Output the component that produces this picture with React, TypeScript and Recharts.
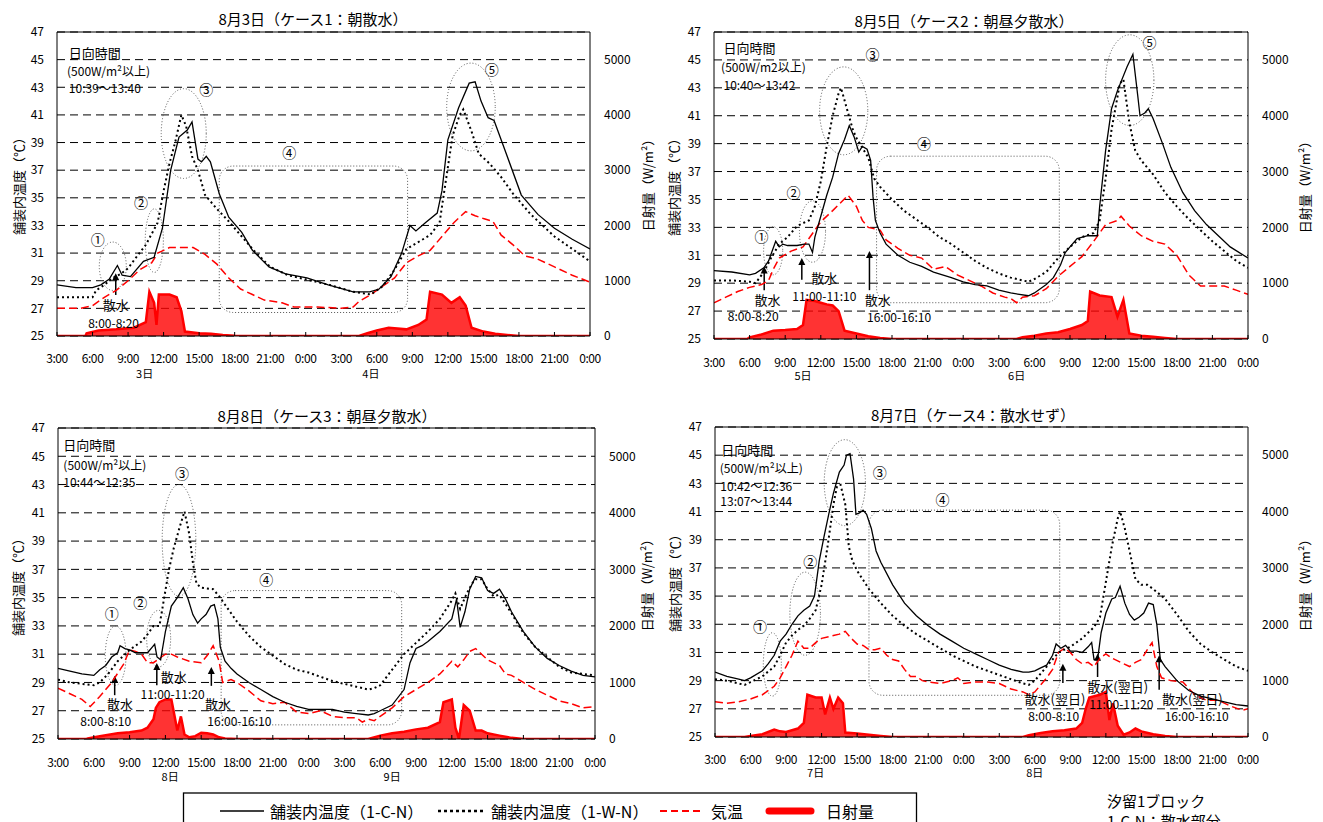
import React from 'react';
import {
  ComposedChart, Line, Area, XAxis, YAxis, CartesianGrid,
  ReferenceLine, ReferenceArea, ReferenceDot,
} from 'recharts';

const FONT = '"Noto Sans CJK JP", "Noto Sans", sans-serif';

// ---- axes ----
const HOURS = [0, 3, 6, 9, 12, 15, 18, 21, 24, 27, 30, 33, 36, 39, 42, 45];
const TEMP_TICKS = [25, 27, 29, 31, 33, 35, 37, 39, 41, 43, 45, 47];
const RAD_TICKS = [0, 1000, 2000, 3000, 4000, 5000];
const fmtHour = (h: number) => `${(3 + h) % 24}:00`;

// ---- Panel 1: 8/3 ----  [hours since 3:00, value]
const p1Cn: [number, number][] = [[0,28.7],[1.6,28.5],[3,28.5],[3.7,28.7],[4.4,29.1],[5.1,30.1],[5.5,29.4],[6.2,29.3],[7.3,30.4],[8.2,30.7],[8.9,32.8],[9.6,37.0],[10.3,39.4],[11.0,39.9],[11.4,40.5],[11.9,37.8],[12.2,37.6],[12.6,38.0],[12.95,37.6],[13.7,35.3],[14.5,33.6],[15.6,32.5],[16.5,31.2],[17.9,30.0],[19.3,29.5],[21.1,29.2],[22.9,28.7],[25,28.2],[26.4,28.2],[27.2,28.4],[28.2,29.3],[29.1,31.0],[29.8,33.0],[30.3,32.6],[31.1,33.2],[32.1,33.9],[32.5,35.5],[33.0,39.2],[33.9,41.5],[34.8,43.3],[35.3,43.4],[35.8,42.0],[36.4,40.8],[36.9,40.6],[37.8,38.5],[39.2,35.2],[40.6,33.8],[42.0,32.8],[43.5,32.0],[45,31.3]];
const p1Wn: [number, number][] = [[0,27.8],[3,27.8],[3.3,28.3],[4,28.7],[4.7,29.2],[5.4,29.5],[6.0,29.9],[6.6,30.6],[7.5,31.6],[8.0,32.4],[8.5,33.2],[9.0,35.5],[9.5,37.5],[10,39.1],[10.5,41.0],[10.9,40.2],[11.4,38.0],[11.9,37.0],[12.5,35.2],[13.5,34.2],[14.5,33.3],[15.6,32.2],[16.6,31.2],[18,30.0],[19.5,29.4],[21,29.1],[23,28.7],[25,28.2],[26.5,28.0],[27.5,28.6],[28.5,29.8],[29.5,31.3],[30.5,31.8],[31.5,32.3],[32.3,33.2],[32.7,35.5],[33.4,39.5],[34.0,41.0],[34.3,41.4],[35.0,39.8],[35.6,38.2],[36.5,37.5],[37.5,36.5],[38.5,35.3],[40,33.8],[42,32.2],[43.5,31.3],[45,30.4]];
const p1Air: [number, number][] = [[0,27.0],[2,27.0],[3,27.2],[4,27.8],[5,28.3],[6,29.0],[7,29.8],[8,30.3],[8.5,31.0],[9,31.2],[9.5,31.4],[10.5,31.4],[11.5,31.4],[12.5,30.9],[13.5,30.2],[14.5,29.2],[15.5,28.4],[16.5,28.0],[17.5,27.6],[19,27.4],[20,27.1],[22,27.1],[24,27.0],[25,27.1],[25.5,27.5],[26.5,28.0],[27.5,28.6],[28.5,29.2],[29.5,30.3],[30.5,30.8],[31.5,31.2],[32.5,32.2],[33.5,33.2],[34.5,34.0],[35.3,33.7],[36,33.5],[36.8,33.3],[37.5,32.3],[38.5,31.6],[39.5,30.8],[40.5,30.6],[42,30.0],[43.5,29.4],[45,28.9]];
const p1Rad: [number, number][] = [[0,0],[2.4,0],[2.5,50],[3.5,100],[5,120],[6.5,150],[7.5,250],[7.8,800],[8.2,600],[8.4,200],[8.6,750],[9.5,750],[10.1,700],[10.5,450],[10.8,80],[12,50],[13,40],[14,20],[15,5],[15.5,0],[25.5,0],[26.2,50],[27,100],[28,150],[29.5,120],[30.5,200],[31.2,300],[31.5,800],[32.5,750],[33.3,600],[34,700],[34.5,550],[35,150],[36,80],[37,40],[38,20],[39,0],[45,0]];

// ---- Panel 2: 8/5 ----
const p2Cn: [number, number][] = [[0,29.9],[1.5,29.8],[3,29.6],[3.5,29.7],[4.2,30.1],[4.6,30.6],[5.2,32.0],[5.5,31.6],[5.8,31.8],[6.2,31.7],[7,31.7],[7.6,31.8],[8.0,31.8],[8.3,31.2],[8.5,32.3],[9,33.8],[9.5,35.3],[10,36.6],[10.5,38.3],[11.0,39.3],[11.4,40.3],[11.8,39.5],[12.2,38.4],[12.5,38.8],[12.9,38.6],[13.2,37.8],[13.4,35.2],[13.6,33.5],[14,32.6],[14.5,31.8],[15.5,31.0],[16.5,30.5],[17.5,30.2],[18.5,29.8],[20,29.4],[21,29.1],[22,28.9],[23,28.8],[24,28.5],[25,28.3],[26.5,28.1],[27,28.3],[28,28.9],[28.6,29.4],[29.2,30.3],[29.6,31.2],[30,31.6],[30.6,32.2],[31.5,32.4],[32.3,32.4],[32.5,34.5],[33,38.5],[33.5,41.5],[34,42.8],[34.8,44.5],[35.3,45.4],[35.7,42.5],[35.9,41.0],[36.3,41.2],[36.6,41.5],[37,40.8],[37.8,39.0],[38.5,37.3],[39.5,35.5],[40.5,34.2],[41.5,33.2],[42.5,32.4],[43.5,31.6],[45,30.8]];
const p2Wn: [number, number][] = [[0,29.2],[1.5,29.2],[3,29.1],[3.5,29.0],[4.2,29.8],[4.8,30.8],[5.5,31.8],[6.2,32.3],[7,33.1],[8,33.5],[8.5,34.5],[9,36.3],[9.5,38.8],[10,41.0],[10.5,42.6],[10.7,43.0],[11.2,41.5],[11.7,40.0],[12,39.4],[12.5,38.7],[13,38.0],[13.5,36.5],[14,35.9],[15,35.0],[16,34.2],[17,33.6],[18,33.0],[19,32.3],[20,31.8],[21,31.2],[22,30.6],[23,30.1],[24,29.7],[25,29.4],[26,29.2],[26.5,29.1],[27,29.3],[28,29.8],[29,30.8],[30,31.6],[31,32.3],[32,32.6],[32.5,33.5],[33,36.5],[33.5,40.0],[34.2,43.3],[34.5,43.6],[35,40.5],[35.5,38.5],[36,37.8],[37,36.8],[38,35.5],[39,34.5],[40,33.6],[41,32.8],[42,32.0],[43,31.3],[44,30.6],[45,30.1]];
const p2Air: [number, number][] = [[0,27.6],[1,28.0],[2,28.4],[3,28.7],[4,28.9],[4.6,29.2],[5,30.0],[5.5,30.8],[6.5,31.3],[7.5,31.6],[8,32.2],[9,33.4],[10,34.2],[11.3,35.3],[12,34.5],[12.5,33.5],[13,33.0],[14,32.8],[14.5,32.1],[15.5,31.5],[16.5,31.0],[17.5,30.8],[18.5,30.0],[19.5,30.2],[20.5,29.6],[21.5,29.2],[22.5,28.8],[23.5,28.3],[24.5,28.0],[25,27.9],[25.5,27.6],[26,28.0],[27,28.1],[28,28.6],[29,29.5],[30,30.2],[31,30.9],[32,32.0],[33,33.2],[34,33.5],[34.3,33.8],[35,33.1],[36,32.4],[37,32.0],[38,31.8],[39,31.0],[40,29.6],[41,28.8],[42,28.8],[43,28.8],[44,28.5],[45,28.2]];
const p2Rad: [number, number][] = [[0,0],[2.8,0],[3,30],[4,80],[5,150],[6,160],[7,180],[7.5,250],[7.8,700],[8.5,680],[9,650],[9.5,620],[10,600],[10.5,500],[11,150],[12,100],[13,50],[14,20],[15,0],[25.5,0],[26,30],[27,60],[28,100],[29,120],[30,180],[31,250],[31.5,320],[31.7,850],[32.5,780],[33.5,750],[34,400],[34.5,700],[35,100],[36,60],[37,40],[38,20],[39,0],[45,0]];

// ---- Panel 3: 8/8 ----
const p3Cn: [number, number][] = [[0,30.0],[1,29.8],[2,29.6],[3,29.5],[3.5,29.9],[4,30.2],[4.5,30.8],[5,31.1],[5.2,31.6],[5.6,31.4],[6,31.3],[6.5,31.1],[7.5,31.1],[7.9,31.5],[8.1,31.7],[8.3,30.8],[8.6,30.6],[9,32.6],[9.5,34.4],[10,35.0],[10.5,35.7],[10.9,34.9],[11.3,33.8],[11.7,33.2],[12,33.5],[12.4,33.8],[12.8,34.4],[13.1,34.5],[13.4,33.5],[13.6,31.5],[14,30.5],[14.5,30.0],[15,29.6],[16,29.0],[17,28.5],[18,28.0],[19,27.6],[20,27.3],[21,27.1],[22,27.1],[23,27.1],[24,26.9],[25,26.8],[26,26.7],[26.5,26.8],[27,27.0],[28,27.4],[29,28.5],[29.5,30.4],[30,31.4],[30.5,31.6],[31,31.9],[32,32.6],[33,33.5],[33.4,34.9],[33.7,32.9],[34.1,34.0],[34.5,35.6],[35,36.5],[35.5,36.4],[36,35.5],[36.5,35.3],[37,35.6],[37.5,34.9],[38,34.0],[39,32.6],[40,31.5],[41,30.7],[42,30.2],[43,29.8],[44,29.5],[45,29.4]];
const p3Wn: [number, number][] = [[0,29.2],[1,29.0],[2,28.9],[3,28.8],[3.5,29.0],[4.2,29.6],[5,30.5],[6,31.3],[7,31.9],[7.5,32.4],[8,33.0],[8.5,33.0],[9,35.5],[9.3,37.0],[9.7,38.5],[10.2,40.0],[10.6,41.1],[11,39.5],[11.3,37.5],[11.6,36.0],[12,35.7],[13,35.6],[13.5,35.1],[14,34.5],[15,33.3],[16,32.3],[17,31.5],[18,30.9],[19,30.3],[20,29.9],[21,29.7],[22,29.4],[23,29.1],[24,28.9],[25,28.7],[26,28.5],[26.5,28.6],[27,28.8],[28,29.9],[29,31.0],[30,31.8],[31,32.6],[32,33.5],[33,34.8],[33.3,35.3],[33.7,34.2],[34.2,35.2],[34.7,36.0],[35,36.3],[35.5,36.3],[36,35.6],[36.5,35.1],[37,35.2],[38,33.9],[39,32.5],[40,31.5],[41,30.8],[42,30.1],[43,29.7],[44,29.6],[45,29.5]];
const p3Air: [number, number][] = [[0,28.6],[1,28.2],[2,27.8],[2.7,27.3],[3.5,28.0],[4.5,29.0],[5.5,30.3],[6,31.3],[6.5,31.2],[7,31.0],[7.5,30.4],[8,30.4],[8.5,30.7],[9,31.0],[9.5,31.0],[10,30.8],[11,30.5],[12,30.4],[12.5,30.9],[13,31.6],[13.5,30.5],[13.8,29.0],[14.5,29.2],[15,29.0],[16,28.4],[17,27.7],[18,27.5],[19,27.6],[20,26.9],[21,26.8],[22,27.0],[23,26.6],[24,26.5],[25,26.5],[25.5,26.2],[26,26.4],[26.5,26.3],[27,26.6],[28,27.2],[29,28.0],[30,28.5],[31,29.0],[32,29.6],[33,30.5],[33.5,30.1],[34,30.6],[34.5,31.2],[35,31.4],[35.5,31.0],[36,30.6],[37,30.2],[37.5,29.6],[38,29.5],[39,29.0],[40,28.5],[41,28.1],[42,27.7],[43,27.5],[44,27.2],[45,27.3]];
const p3Rad: [number, number][] = [[0,0],[2.4,0],[2.5,10],[3.5,50],[5,100],[6,120],[7,150],[7.5,200],[8,350],[8.2,550],[8.5,650],[9,700],[9.5,700],[10,150],[10.3,400],[10.6,80],[11,30],[11.5,50],[12,110],[12.5,100],[13,80],[13.5,30],[14,10],[15,0],[26,0],[27,60],[28,100],[29,130],[30,170],[31,200],[32,300],[32.3,650],[33,700],[33.3,200],[33.6,0],[34,600],[34.5,500],[35,150],[35.5,150],[36,100],[37,60],[38,20],[39,0],[45,0]];

// ---- Panel 4: 8/7 ----
const p4Cn: [number, number][] = [[0,29.6],[1,29.3],[2,29.1],[2.5,29.0],[3,29.2],[4,29.7],[4.5,30.2],[5,30.8],[5.5,31.8],[6,32.3],[6.5,33.0],[7,33.6],[7.5,34.0],[8,34.3],[8.4,35.0],[8.8,37.5],[9.2,39.2],[9.6,40.8],[10,42.3],[10.5,43.8],[10.9,44.3],[11.1,45.0],[11.4,45.1],[11.7,43.3],[11.9,40.8],[12.2,40.9],[12.5,41.1],[12.8,40.8],[13.2,39.8],[13.6,38.2],[14,37.4],[15,35.8],[16,34.5],[17,33.6],[18,32.9],[19,32.3],[20,31.8],[21,31.3],[22,30.9],[23,30.5],[24,30.1],[25,29.8],[26,29.6],[26.5,29.6],[27,29.7],[27.5,29.9],[28,30.1],[28.5,30.8],[28.8,31.6],[29.2,31.3],[29.6,31.5],[30,31.1],[30.5,31.1],[31,31.0],[31.5,31.4],[31.8,31.7],[32,30.5],[32.3,30.5],[32.6,32.4],[33,33.8],[33.5,34.8],[33.8,34.9],[34.2,35.7],[34.6,34.5],[35,33.7],[35.4,33.3],[35.8,33.5],[36.2,33.8],[36.6,34.5],[37,34.4],[37.3,33.0],[37.6,30.5],[38,30.0],[39,29.0],[40,28.3],[41,27.9],[42,27.7],[43,27.5],[44,27.3],[45,27.2]];
const p4Wn: [number, number][] = [[0,29.1],[1,29.0],[2,28.8],[2.5,28.7],[3,28.9],[4,29.3],[5,30.0],[5.5,30.8],[6,31.7],[6.5,32.2],[7,32.6],[7.5,32.9],[8,33.4],[8.5,34.0],[9,35.8],[9.5,38.5],[10,41.5],[10.3,42.8],[10.6,42.9],[11,41.5],[11.3,38.5],[11.6,37.5],[12,36.8],[13,35.5],[14,34.5],[15,33.6],[16,32.9],[17,32.3],[18,31.8],[19,31.3],[20,30.8],[21,30.4],[22,30.0],[23,29.7],[24,29.4],[25,29.1],[26,28.8],[26.5,28.7],[27,29.0],[28,30.0],[29,31.0],[30,31.4],[31,32.0],[32,32.8],[32.5,33.5],[33,36.0],[33.5,38.5],[34,40.5],[34.2,41.0],[34.6,39.8],[35,38.2],[35.5,36.2],[36,35.8],[36.5,35.8],[37,35.5],[38,34.8],[39,33.7],[40,32.5],[41,31.6],[42,31.0],[43,30.5],[44,30.0],[45,29.7]];
const p4Air: [number, number][] = [[0,27.5],[1,27.4],[2,27.5],[3,27.7],[4,28.0],[4.5,28.3],[5,28.6],[5.5,29.2],[6,30.0],[6.5,30.8],[7,31.8],[7.5,31.3],[8,31.3],[8.5,31.7],[9,32.0],[10,32.2],[10.5,32.3],[11,32.5],[11.5,32.0],[12,31.6],[12.5,31.5],[13,31.2],[13.5,31.2],[14,31.3],[14.5,30.8],[15,30.5],[15.5,30.4],[16,29.8],[16.5,29.3],[17,29.3],[17.5,29.0],[18,28.9],[19,28.8],[20,29.0],[20.5,29.2],[21,28.8],[22,28.9],[23,28.9],[24,28.8],[25,28.4],[26,28.2],[26.5,28.0],[27,28.2],[28,29.2],[28.5,29.8],[29,31.0],[29.5,31.3],[30,31.0],[30.5,30.5],[31,30.2],[31.5,30.3],[32,30.0],[32.5,30.6],[33,30.9],[33.5,30.6],[34,30.4],[34.5,30.2],[35,30.0],[35.5,30.3],[36,30.5],[36.5,31.2],[36.9,31.7],[37.3,30.0],[37.7,29.2],[38.5,29.0],[39.5,28.9],[40.5,28.0],[41.5,27.6],[42.5,27.6],[43.5,27.2],[44.5,26.9],[45,27.0]];
const p4Rad: [number, number][] = [[0,0],[2.5,0],[3,20],[4,50],[5,130],[5.5,100],[6,90],[7,150],[7.5,250],[7.8,750],[8.5,700],[9,700],[9.3,400],[9.7,700],[10,500],[10.4,700],[10.8,600],[11,80],[12,60],[13,40],[14,20],[15,0],[26,0],[26.5,30],[27.5,70],[28.5,100],[29.5,120],[30.5,150],[31,250],[31.3,500],[31.6,700],[32.5,750],[33,800],[33.3,300],[33.6,600],[34,200],[34.5,40],[35,80],[35.5,150],[36,100],[37,50],[38,20],[39,0],[45,0]];

// ---- annotations (data coordinates) ----
type TextAnn = { t: number; v: number; s: string; size: number; anchor: 'start' | 'middle' };
type Box = { t1: number; t2: number; v1: number; v2: number };
type Arrow = { t: number; tail: number; tip: number };
type DateLbl = { t: number; s: string };

const note = (t: number, v: number, s: string, size = 12, anchor: 'start' | 'middle' = 'middle'): TextAnn => ({ t, v, s, size, anchor });

const p1Texts: TextAnn[] = [
  note(1.0, 45.55, '日向時間', 13, 'start'), note(0.85, 44.25, '(500W/m²以上)', 12, 'start'), note(1.0, 43.0, '10:39～13:40', 12, 'start'),
  note(3.43, 32.0, '①', 14), note(7.1, 34.7, '②', 14), note(12.6, 42.9, '③', 14), note(19.6, 38.3, '④', 14), note(36.7, 44.3, '⑤', 14),
  note(4.96, 27.25, '散水', 13), note(4.78, 25.96, '8:00-8:20', 12),
];
const p1Ellipses: Box[] = [{ t1: 3.57, t2: 5.85, v1: 28.3, v2: 31.8 }, { t1: 7.45, t2: 8.98, v1: 29.6, v2: 34.2 }, { t1: 8.8, t2: 12.6, v1: 36.4, v2: 42.9 }, { t1: 32.9, t2: 37.0, v1: 38.4, v2: 44.75 }];
const p1Rects: Box[] = [{ t1: 13.7, t2: 29.6, v1: 26.7, v2: 37.3 }];
const p1Arrows: Arrow[] = [{ t: 4.96, tail: 27.97, tip: 29.55 }];
const p1Dates: DateLbl[] = [{ t: 7.4, s: '3日' }, { t: 26.5, s: '4日' }];

const p2Texts: TextAnn[] = [
  note(0.8, 45.9, '日向時間', 13, 'start'), note(0.6, 44.54, '(500W/m2以上)', 12, 'start'), note(0.8, 43.23, '10:40～13:42', 12, 'start'),
  note(4.0, 32.35, '①', 14), note(6.7, 35.5, '②', 14), note(13.36, 45.4, '③', 14), note(17.7, 39.07, '④', 14), note(36.7, 46.3, '⑤', 14),
  note(4.5, 27.8, '散水', 13), note(3.3, 26.7, '8:00-8:20', 12),
  note(9.3, 29.4, '散水', 13), note(9.3, 28.1, '11:00-11:10', 12),
  note(13.8, 27.8, '散水', 13), note(15.6, 26.6, '16:00-16:10', 12),
];
const p2Ellipses: Box[] = [{ t1: 4.18, t2: 5.79, v1: 29.6, v2: 33.05 }, { t1: 7.2, t2: 9.4, v1: 30.5, v2: 34.9 }, { t1: 8.9, t2: 12.96, v1: 38.2, v2: 44.5 }, { t1: 33.0, t2: 37.07, v1: 40.3, v2: 46.8 }];
const p2Rects: Box[] = [{ t1: 13.7, t2: 29.1, v1: 27.6, v2: 38.1 }];
const p2Arrows: Arrow[] = [{ t: 4.23, tail: 28.5, tip: 30.2 }, { t: 7.4, tail: 29.25, tip: 30.8 }, { t: 13.1, tail: 28.5, tip: 31.3 }];
const p2Dates: DateLbl[] = [{ t: 7.5, s: '5日' }, { t: 25.5, s: '6日' }];

const p3Texts: TextAnn[] = [
  note(0.45, 45.8, '日向時間', 13, 'start'), note(0.45, 44.4, '(500W/m²以上)', 12, 'start'), note(0.45, 43.2, '10:44～12:35', 12, 'start'),
  note(4.5, 33.9, '①', 14), note(6.9, 34.7, '②', 14), note(10.4, 43.8, '③', 14), note(17.46, 36.3, '④', 14),
  note(5.2, 27.5, '散水', 13), note(4.0, 26.3, '8:00-8:10', 12),
  note(9.7, 29.4, '散水', 13), note(9.6, 28.2, '11:00-11:20', 12),
  note(13.4, 27.5, '散水', 13), note(15.2, 26.3, '16:00-16:10', 12),
];
const p3Ellipses: Box[] = [{ t1: 3.96, t2: 5.7, v1: 28.8, v2: 33.0 }, { t1: 7.43, t2: 9.44, v1: 30.1, v2: 34.1 }, { t1: 8.73, t2: 11.55, v1: 35.1, v2: 43.0 }];
const p3Rects: Box[] = [{ t1: 13.67, t2: 28.8, v1: 26.0, v2: 35.5 }];
const p3Arrows: Arrow[] = [{ t: 4.75, tail: 28.1, tip: 29.47 }, { t: 8.28, tail: 28.8, tip: 30.37 }, { t: 12.85, tail: 28.76, tip: 30.1 }];
const p3Dates: DateLbl[] = [{ t: 9.4, s: '8日' }, { t: 28.0, s: '9日' }];

const p4Texts: TextAnn[] = [
  note(0.53, 45.4, '日向時間', 13, 'start'), note(0.4, 44.1, '(500W/m²以上)', 12, 'start'), note(0.45, 42.86, '10:42～12:36', 12, 'start'), note(0.45, 41.75, '13:07～13:44', 12, 'start'),
  note(3.8, 32.9, '①', 14), note(8.04, 37.5, '②', 14), note(13.9, 43.8, '③', 14), note(19.2, 41.9, '④', 14),
  note(28.7, 27.7, '散水(翌日)', 13), note(28.6, 26.5, '8:00-8:10', 12),
  note(34.0, 28.6, '散水(翌日)', 13), note(34.3, 27.37, '11:00-11:20', 12),
  note(40.3, 27.7, '散水(翌日)', 13), note(40.67, 26.5, '16:00-16:10', 12),
];
const p4Ellipses: Box[] = [{ t1: 4.08, t2: 5.6, v1: 27.9, v2: 32.4 }, { t1: 6.32, t2: 8.9, v1: 30.8, v2: 36.7 }, { t1: 9.22, t2: 12.7, v1: 40.0, v2: 46.1 }];
const p4Rects: Box[] = [{ t1: 13.0, t2: 29.1, v1: 27.96, v2: 41.1 }];
const p4Arrows: Arrow[] = [{ t: 29.37, tail: 28.83, tip: 30.2 }, { t: 32.3, tail: 29.26, tip: 30.9 }, { t: 37.5, tail: 28.36, tip: 30.8 }];
const p4Dates: DateLbl[] = [{ t: 8.5, s: '7日' }, { t: 27.0, s: '8日' }];

// ---- helpers ----
function buildRows(series: Record<string, [number, number][]>) {
  const map = new Map<number, any>();
  Object.entries(series).forEach(([k, pts]) => {
    pts.forEach(([t, v]) => {
      const r = map.get(t) ?? { t };
      r[k] = v;
      map.set(t, r);
    });
  });
  return Array.from(map.values()).sort((a, b) => a.t - b.t);
}

type PanelCfg = {
  box: { x: number; y: number; w: number; h: number };
  plot: { x0: number; x1: number; y0: number; y1: number };
  xLabelOff: number;
  dateOff: number;
  cn: [number, number][]; wn: [number, number][]; air: [number, number][]; rad: [number, number][];
  texts: TextAnn[]; ellipses: Box[]; rects: Box[]; arrows: Arrow[]; dates: DateLbl[];
};

const LEFT_W = 40;
const RIGHT_W = 60;
const XAX_H = 30;

function Panel({ cfg }: { cfg: PanelCfg }) {
  const { box, plot } = cfg;
  const margin = {
    left: plot.x0 - box.x - LEFT_W,
    right: box.x + box.w - plot.x1 - RIGHT_W,
    top: plot.y0 - box.y,
    bottom: box.y + box.h - plot.y1 - XAX_H,
  };
  const rows = buildRows({ cn: cfg.cn, wn: cfg.wn, air: cfg.air, rad: cfg.rad });
  const tickStyle = { fill: '#000', fontSize: 12, fontFamily: FONT };
  return (
    <div style={{ position: 'absolute', left: box.x, top: box.y }}>
      <ComposedChart width={box.w} height={box.h} margin={margin} data={rows}>
        <CartesianGrid yAxisId="left" vertical={false} stroke="#000" strokeDasharray="8 5" strokeWidth={1} />
        <XAxis
          type="number" dataKey="t" domain={[0, 45]} ticks={HOURS} interval={0} allowDataOverflow
          height={XAX_H} tickLine={false} tickSize={0} tickMargin={0} axisLine={{ stroke: '#000' }}
          tick={(p: any) => (
            <g>
              <line x1={p.x} x2={p.x} y1={p.y} y2={p.y - 4} stroke="#000" />
              <text x={p.x} y={p.y + cfg.xLabelOff} textAnchor="middle" dominantBaseline="central" fontSize={12} fontFamily={FONT} fill="#000" letterSpacing={-0.4}>
                {fmtHour(p.payload.value)}
              </text>
            </g>
          )}
        />
        <YAxis yAxisId="left" domain={[25, 47]} ticks={TEMP_TICKS} interval={0} allowDataOverflow width={LEFT_W}
          tickLine={false} tickSize={0} tickMargin={13} axisLine={{ stroke: '#000' }} tick={tickStyle} />
        <YAxis yAxisId="right" orientation="right" domain={[0, 5500]} ticks={RAD_TICKS} interval={0} allowDataOverflow width={RIGHT_W}
          tickLine={false} tickSize={0} tickMargin={14} axisLine={{ stroke: '#000' }} tick={tickStyle} />
        <ReferenceLine yAxisId="left" y={47} stroke="#000" strokeWidth={1} />

        {cfg.rects.map((r, i) => (
          <ReferenceArea key={'r' + i} yAxisId="left" x1={r.t1} x2={r.t2} y1={r.v1} y2={r.v2} ifOverflow="visible"
            shape={(p: any) => <rect x={p.x} y={p.y} width={p.width} height={p.height} rx={14} ry={14} fill="none" stroke="#555" strokeWidth={1} strokeDasharray="1 2" />} />
        ))}
        {cfg.ellipses.map((e, i) => (
          <ReferenceArea key={'e' + i} yAxisId="left" x1={e.t1} x2={e.t2} y1={e.v1} y2={e.v2} ifOverflow="visible"
            shape={(p: any) => <ellipse cx={p.x + p.width / 2} cy={p.y + p.height / 2} rx={p.width / 2} ry={p.height / 2} fill="none" stroke="#555" strokeWidth={1} strokeDasharray="1 2" />} />
        ))}

        <Area yAxisId="right" dataKey="rad" type="linear" connectNulls isAnimationActive={false}
          stroke="#ff0000" strokeWidth={2.5} fill="#ff0000" fillOpacity={0.8} dot={false} activeDot={false} />
        <Line yAxisId="left" dataKey="air" type="linear" connectNulls isAnimationActive={false}
          stroke="#ff0000" strokeWidth={1.5} strokeDasharray="8 4" dot={false} activeDot={false} />
        <Line yAxisId="left" dataKey="wn" type="linear" connectNulls isAnimationActive={false}
          stroke="#000" strokeWidth={2} strokeDasharray="2 3" dot={false} activeDot={false} />
        <Line yAxisId="left" dataKey="cn" type="linear" connectNulls isAnimationActive={false}
          stroke="#000" strokeWidth={1.3} dot={false} activeDot={false} />

        {cfg.arrows.map((a, i) => (
          <ReferenceArea key={'a' + i} yAxisId="left" x1={a.t - 0.05} x2={a.t + 0.05} y1={a.tail} y2={a.tip} ifOverflow="visible"
            shape={(p: any) => {
              const cx = p.x + p.width / 2;
              const top = p.y;
              const bot = p.y + p.height;
              return (
                <g>
                  <line x1={cx} x2={cx} y1={bot} y2={top + 5} stroke="#000" strokeWidth={1.5} />
                  <path d={`M${cx},${top} L${cx - 3.5},${top + 7} L${cx + 3.5},${top + 7} Z`} fill="#000" />
                </g>
              );
            }} />
        ))}
        {cfg.texts.map((n, i) => (
          <ReferenceDot key={'t' + i} yAxisId="left" x={n.t} y={n.v} r={0} ifOverflow="visible"
            shape={(p: any) => (
              <text x={p.cx} y={p.cy} textAnchor={n.anchor} dominantBaseline="central" fontSize={n.size} fontFamily={FONT} fill="#000">{n.s}</text>
            )} />
        ))}
        {cfg.dates.map((d, i) => (
          <ReferenceDot key={'d' + i} yAxisId="left" x={d.t} y={25} r={0} ifOverflow="visible"
            shape={(p: any) => (
              <text x={p.cx} y={p.cy + cfg.dateOff} textAnchor="middle" dominantBaseline="central" fontSize={11} fontFamily={FONT} fill="#000">{d.s}</text>
            )} />
        ))}
      </ComposedChart>
    </div>
  );
}

const panels: PanelCfg[] = [
  { box: { x: 0, y: 0, w: 660, h: 400 }, plot: { x0: 57, x1: 590, y0: 32, y1: 336 }, xLabelOff: 21, dateOff: 37,
    cn: p1Cn, wn: p1Wn, air: p1Air, rad: p1Rad, texts: p1Texts, ellipses: p1Ellipses, rects: p1Rects, arrows: p1Arrows, dates: p1Dates },
  { box: { x: 660, y: 0, w: 663, h: 400 }, plot: { x0: 714, x1: 1248, y0: 32, y1: 339 }, xLabelOff: 22, dateOff: 36,
    cn: p2Cn, wn: p2Wn, air: p2Air, rad: p2Rad, texts: p2Texts, ellipses: p2Ellipses, rects: p2Rects, arrows: p2Arrows, dates: p2Dates },
  { box: { x: 0, y: 400, w: 660, h: 422 }, plot: { x0: 58, x1: 595, y0: 428, y1: 739 }, xLabelOff: 22, dateOff: 37,
    cn: p3Cn, wn: p3Wn, air: p3Air, rad: p3Rad, texts: p3Texts, ellipses: p3Ellipses, rects: p3Rects, arrows: p3Arrows, dates: p3Dates },
  { box: { x: 660, y: 400, w: 663, h: 422 }, plot: { x0: 715, x1: 1248, y0: 427, y1: 737 }, xLabelOff: 21, dateOff: 35,
    cn: p4Cn, wn: p4Wn, air: p4Air, rad: p4Rad, texts: p4Texts, ellipses: p4Ellipses, rects: p4Rects, arrows: p4Arrows, dates: p4Dates },
];

const TITLES = [
  { x: 313, y: 18, s: '8月3日（ケース1：朝散水）' },
  { x: 964, y: 20, s: '8月5日（ケース2：朝昼夕散水）' },
  { x: 327, y: 415, s: '8月8日（ケース3：朝昼夕散水）' },
  { x: 973, y: 414, s: '8月7日（ケース4：散水せず）' },
];
const LEFT_LABELS = [{ x: 18, y: 183 }, { x: 673, y: 184 }, { x: 17, y: 584 }, { x: 674, y: 580 }];
const RIGHT_LABELS = [{ x: 647, y: 182 }, { x: 1304, y: 184 }, { x: 646, y: 582 }, { x: 1304, y: 582 }];

export default function App() {
  return (
    <div style={{ position: 'absolute', left: 0, top: 0, width: 1323, height: 822, background: '#fff', overflow: 'hidden', fontFamily: FONT }}>
      {panels.map((p, i) => <Panel key={i} cfg={p} />)}
      <svg width={1323} height={822} style={{ position: 'absolute', left: 0, top: 0, pointerEvents: 'none' }}>
        {TITLES.map((t, i) => (
          <text key={'ti' + i} x={t.x} y={t.y} textAnchor="middle" dominantBaseline="central" fontSize={15} fontFamily={FONT} fill="#000">{t.s}</text>
        ))}
        {LEFT_LABELS.map((l, i) => (
          <text key={'ll' + i} x={l.x} y={l.y} transform={`rotate(-90 ${l.x} ${l.y})`} textAnchor="middle" dominantBaseline="central" fontSize={13} fontFamily={FONT} fill="#000">舗装内温度（℃）</text>
        ))}
        {RIGHT_LABELS.map((l, i) => (
          <text key={'rl' + i} x={l.x} y={l.y} transform={`rotate(-90 ${l.x} ${l.y})`} textAnchor="middle" dominantBaseline="central" fontSize={13} fontFamily={FONT} fill="#000">日射量（W/m²）</text>
        ))}
        {/* legend */}
        <rect x={183.5} y={793} width={733} height={45} fill="none" stroke="#000" strokeWidth={1.3} />
        <line x1={220} x2={264} y1={811} y2={811} stroke="#000" strokeWidth={1.3} />
        <text x={270} y={811} dominantBaseline="central" fontSize={16} fontFamily={FONT} fill="#000">舗装内温度（1-C-N）</text>
        <line x1={438} x2={484} y1={811} y2={811} stroke="#000" strokeWidth={2.5} strokeDasharray="3 3" />
        <text x={491} y={811} dominantBaseline="central" fontSize={16} fontFamily={FONT} fill="#000">舗装内温度（1-W-N）</text>
        <line x1={660} x2={704} y1={811} y2={811} stroke="#ff0000" strokeWidth={2} strokeDasharray="7 4" />
        <text x={711} y={811} dominantBaseline="central" fontSize={16} fontFamily={FONT} fill="#000">気温</text>
        <line x1={769} x2={811} y1={811} y2={811} stroke="#ff0000" strokeWidth={7} strokeLinecap="round" />
        <text x={826} y={811} dominantBaseline="central" fontSize={16} fontFamily={FONT} fill="#000">日射量</text>
        <text x={1107} y={800} dominantBaseline="central" fontSize={15} fontFamily={FONT} fill="#000">汐留1ブロック</text>
        <text x={1107} y={820} dominantBaseline="central" fontSize={15} fontFamily={FONT} fill="#000">1-C-N：散水部分</text>
      </svg>
    </div>
  );
}
